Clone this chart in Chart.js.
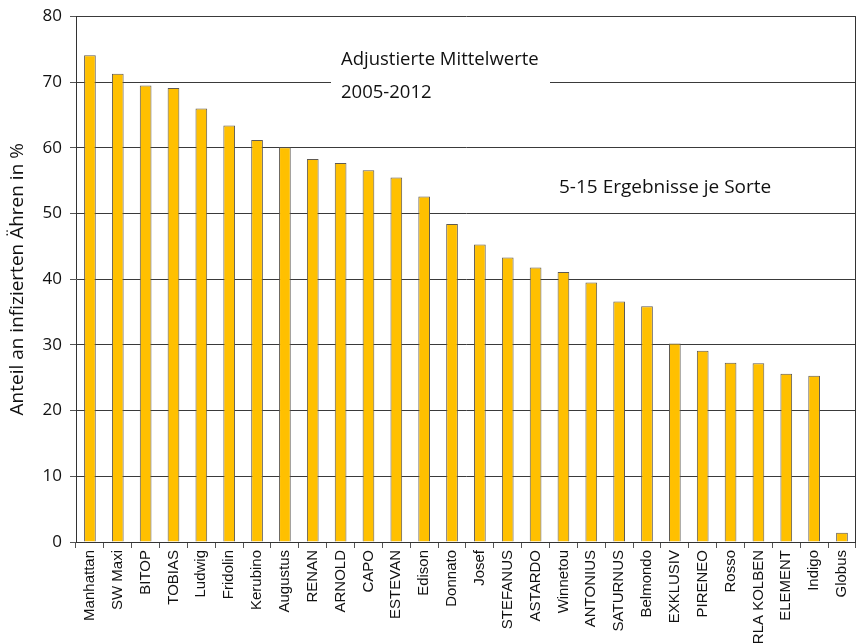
<!DOCTYPE html>
<html>
<head>
<meta charset="utf-8">
<script src="https://cdn.jsdelivr.net/npm/chart.js@4"></script>
<style>
  html, body { margin: 0; padding: 0; background: #fff; overflow: hidden; }
  #wrap { width: 862px; height: 643px; position: relative; }
</style>
</head>
<body>
<div id="wrap"><canvas id="chart"></canvas></div>
<script>
const sorten = ["Manhattan", "SW Maxi", "BITOP", "TOBIAS", "Ludwig", "Fridolin", "Kerubino", "Augustus",
  "RENAN", "ARNOLD", "CAPO", "ESTEVAN", "Edison", "Donnato", "Josef", "STEFANUS", "ASTARDO", "Winnetou",
  "ANTONIUS", "SATURNUS", "Belmondo", "EXKLUSIV", "PIRENEO", "Rosso", "ERLA KOLBEN", "ELEMENT", "Indigo", "Globus"];
const anteil = [74.1, 71.3, 69.5, 69.1, 66.0, 63.4, 61.2, 60.1, 58.3, 57.7, 56.6, 55.5, 52.6, 48.4, 45.3,
  43.3, 41.8, 41.1, 39.5, 36.6, 35.9, 30.2, 29.1, 27.3, 27.2, 25.6, 25.3, 1.4];
const yTicks = [0, 10, 20, 30, 40, 50, 60, 70, 80];
const titel = ["Adjustierte Mittelwerte", "2005-2012"];
const hinweis = "5-15 Ergebnisse je Sorte";

const textPlugin = {
  id: "texte",
  afterDatasetsDraw(chart) {
    const { ctx, chartArea: a, scales: { y } } = chart;
    ctx.save();
    // white box behind the title so the 70 gridline is interrupted
    ctx.fillStyle = "#fff";
    ctx.fillRect(331, y.getPixelForValue(75.5), 219, y.getPixelForValue(67) - y.getPixelForValue(75.5));
    ctx.fillStyle = "#111";
    ctx.font = "18.5px 'Open Sans'";
    ctx.textBaseline = "middle";
    ctx.fillText(titel[0], 341, y.getPixelForValue(73.4));
    ctx.fillText(titel[1], 341, y.getPixelForValue(68.4));
    ctx.font = "19px 'Open Sans'";
    ctx.fillText(hinweis, 559, y.getPixelForValue(54.0));
    // plot frame (right side)
    ctx.strokeStyle = "#333";
    ctx.lineWidth = 1;
    ctx.beginPath();
    ctx.moveTo(Math.round(a.right) - 0.5, a.top);
    ctx.lineTo(Math.round(a.right) - 0.5, a.bottom);
    ctx.stroke();
    ctx.restore();
  }
};

new Chart(document.getElementById("chart"), {
  type: "bar",
  data: {
    labels: sorten,
    datasets: [{
      data: anteil,
      backgroundColor: "#FFC000",
      borderColor: "#5f5a52",
      borderWidth: 1,
      barPercentage: 0.42,
      categoryPercentage: 1
    }]
  },
  options: {
    responsive: true,
    maintainAspectRatio: false,
    animation: false,
    layout: { padding: { top: 15, right: 1, left: 0, bottom: 0 } },
    plugins: { legend: { display: false }, tooltip: { enabled: false } },
    scales: {
      x: {
        afterFit(scale) { scale.height = 101; },
        grid: { drawOnChartArea: false, offset: true, tickLength: 6, color: "#555" },
        border: { color: "#333" },
        ticks: {
          maxRotation: 90, minRotation: 90, autoSkip: false, padding: 2,
          color: "#111", font: { family: "'Liberation Sans', Arial", size: 15 }
        }
      },
      y: {
        min: 0, max: 80,
        afterFit(scale) { scale.width = 76; },
        afterBuildTicks(scale) { scale.ticks = yTicks.map((v) => ({ value: v })); },
        grid: { color: "#3a3a3a", tickLength: 6, tickColor: "#555" },
        border: { color: "#333" },
        ticks: { padding: 8, color: "#111", font: { family: "'Open Sans'", size: 17, lineHeight: 1 } },
        title: {
          display: true, text: "Anteil an infizierten Ähren in %",
          color: "#111", font: { family: "'Open Sans'", size: 19 }, padding: { top: 6, bottom: 0 }
        }
      }
    }
  },
  plugins: [textPlugin]
});
</script>
</body>
</html>
